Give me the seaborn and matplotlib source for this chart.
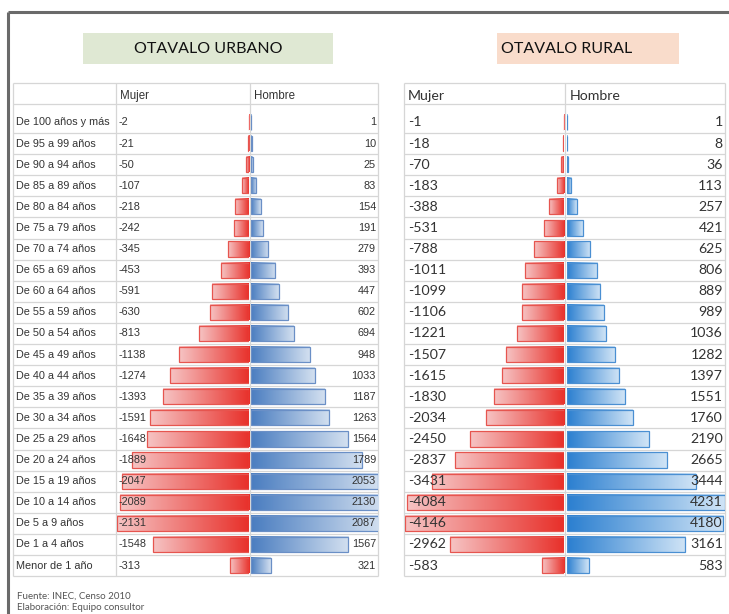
import numpy as np
import pandas as pd
import matplotlib
matplotlib.use("Agg")
import matplotlib.pyplot as plt
import seaborn as sns
from matplotlib.colors import LinearSegmentedColormap
from matplotlib.patches import Rectangle

# =========================
# data (Otavalo, INEC Censo 2010)
# =========================
age_labels = [
    "De 100 años y más", "De 95 a 99 años", "De 90 a 94 años", "De 85 a 89 años",
    "De 80 a 84 años", "De 75 a 79 años", "De 70 a 74 años", "De 65 a 69 años",
    "De 60 a 64 años", "De 55 a 59 años", "De 50 a 54 años", "De 45 a 49 años",
    "De 40 a 44 años", "De 35 a 39 años", "De 30 a 34 años", "De 25 a 29 años",
    "De 20 a 24 años", "De 15 a 19 años", "De 10 a 14 años", "De 5 a 9 años",
    "De 1 a 4 años", "Menor de 1 año",
]
urb_mujer = [-2, -21, -50, -107, -218, -242, -345, -453, -591, -630, -813, -1138,
             -1274, -1393, -1591, -1648, -1889, -2047, -2089, -2131, -1548, -313]
urb_hombre = [1, 10, 25, 83, 154, 191, 279, 393, 447, 602, 694, 948,
              1033, 1187, 1263, 1564, 1789, 2053, 2130, 2087, 1567, 321]
rur_mujer = [-1, -18, -70, -183, -388, -531, -788, -1011, -1099, -1106, -1221, -1507,
             -1615, -1830, -2034, -2450, -2837, -3431, -4084, -4146, -2962, -583]
rur_hombre = [1, 8, 36, 113, 257, 421, 625, 806, 889, 989, 1036, 1282,
              1397, 1551, 1760, 2190, 2665, 3444, 4231, 4180, 3161, 583]

# =========================
# layout (pixels)
# =========================
W, H = 729, 614
row_h = 21.1
n_rows = len(age_labels)
row_top = 133 - row_h
row_bottom = row_top + n_rows * row_h

narrow = ["Liberation Sans", "DejaVu Sans"]
regular = ["Lato", "Liberation Sans", "DejaVu Sans"]
txt_col = "#333333"
grid_col = "#d6d6d6"

fig = plt.figure(figsize=(W / 100, H / 100), dpi=100)


def px_axes(x0, x1, y0, y1, z=1):
    return fig.add_axes([x0 / W, 1 - y1 / H, (x1 - x0) / W, (y1 - y0) / H], zorder=z)


def pixel_space(ax):
    ax.set_xlim(0, W)
    ax.set_ylim(H, 0)
    ax.axis("off")
    ax.patch.set_alpha(0)


bg = px_axes(0, W, 0, H, z=0)
pixel_space(bg)

# outer frame
bg.plot([8, W], [12, 12], color="#6a6a6a", lw=2.2, solid_capstyle="butt")
bg.plot([8, 8], [12, H], color="#6a6a6a", lw=2.2, solid_capstyle="butt")

# title boxes
bg.add_patch(Rectangle((83, 33), 250, 31, color="#dfe8d3", lw=0))
bg.add_patch(Rectangle((497, 33), 182, 31, color="#f9dccb", lw=0))

# table grids
for left, split1, split2, right in [(13, 116, 250, 378), (404, None, 565, 725)]:
    ys = [83, 104] + [133 + row_h * k for k in range(n_rows)]
    bg.hlines(ys, left, right, color=grid_col, lw=0.9)
    xs = [x for x in (left, split1, split2, right) if x is not None]
    bg.vlines(xs, 83, ys[-1], color=grid_col, lw=0.9)


# =========================
# bars
# =========================
def draw_bars(values, x0, x1, xlim, light, strong, edge, female):
    ax = px_axes(x0, x1, row_top, row_bottom, z=2)
    df = pd.DataFrame({"edad": age_labels, "n": values})
    sns.barplot(data=df, x="n", y="edad", order=age_labels, orient="h",
                color=strong, saturation=1, width=0.72, ax=ax)
    cols = [light, strong] if female else [strong, light]
    cmap = LinearSegmentedColormap.from_list("grad", cols)
    grad = np.linspace(0, 1, 256).reshape(1, -1)
    for p in ax.patches:
        w = p.get_width()
        if w == 0:
            continue
        l, r = sorted([p.get_x(), p.get_x() + w])
        y, h = p.get_y(), p.get_height()
        ax.imshow(grad, extent=[l, r, y + h, y], aspect="auto", cmap=cmap,
                  interpolation="bilinear", zorder=1)
        p.set_facecolor("none")
        p.set_edgecolor(edge)
        p.set_linewidth(0.9)
        p.set_zorder(2)
    ax.set_xlim(*xlim)
    ax.set_ylim(n_rows - 0.5, -0.5)
    ax.axis("off")
    return ax


draw_bars(urb_mujer, 117, 249, (min(urb_mujer), 0), "#f6c4c4", "#e8302a", "#e6554f", True)
draw_bars(urb_hombre, 251, 378, (0, 2050), "#d3e0f0", "#4a7dc0", "#6a8fc6", False)
draw_bars(rur_mujer, 405, 564, (min(rur_mujer), 0), "#f6c4c4", "#e8302a", "#e6554f", True)
draw_bars(rur_hombre, 567, 725, (0, max(rur_hombre)), "#d0e4f6", "#2b7fd0", "#4a8fd2", False)

# =========================
# text
# =========================
top = px_axes(0, W, 0, H, z=5)
pixel_space(top)

top.text(208, 49, "OTAVALO URBANO", family=regular, fontsize=11.5, color="#111111",
         ha="center", va="center")
top.text(567, 49, "OTAVALO RURAL", family=regular, fontsize=11.5, color="#111111",
         ha="center", va="center")

top.text(120, 96, "Mujer", family=narrow, fontsize=8.3, color=txt_col, va="center")
top.text(254, 96, "Hombre", family=narrow, fontsize=8.3, color=txt_col, va="center")
top.text(408, 96, "Mujer", family=regular, fontsize=10.2, color=txt_col, va="center")
top.text(570, 96, "Hombre", family=regular, fontsize=10.2, color=txt_col, va="center")

for i, lab in enumerate(age_labels):
    yc = row_top + row_h * (i + 0.5)
    top.text(16, yc, lab, family=narrow, fontsize=7.8, color=txt_col, va="center")
    top.text(119, yc, f"{urb_mujer[i]}", family=narrow, fontsize=7.8, color=txt_col, va="center")
    top.text(376, yc, f"{urb_hombre[i]}", family=narrow, fontsize=7.8, color=txt_col,
             va="center", ha="right")
    top.text(408, yc, f"{rur_mujer[i]}", family=regular, fontsize=10.2, color=txt_col, va="center")
    top.text(723, yc, f"{rur_hombre[i]}", family=regular, fontsize=10.2, color=txt_col,
             va="center", ha="right")

top.text(17, 596, "Fuente: INEC, Censo 2010", family=regular, fontsize=7, color="#555555",
         va="center")
top.text(17, 607, "Elaboración: Equipo consultor", family=regular, fontsize=7, color="#555555",
         va="center")

fig.savefig("out.png", dpi=100, facecolor="white")
